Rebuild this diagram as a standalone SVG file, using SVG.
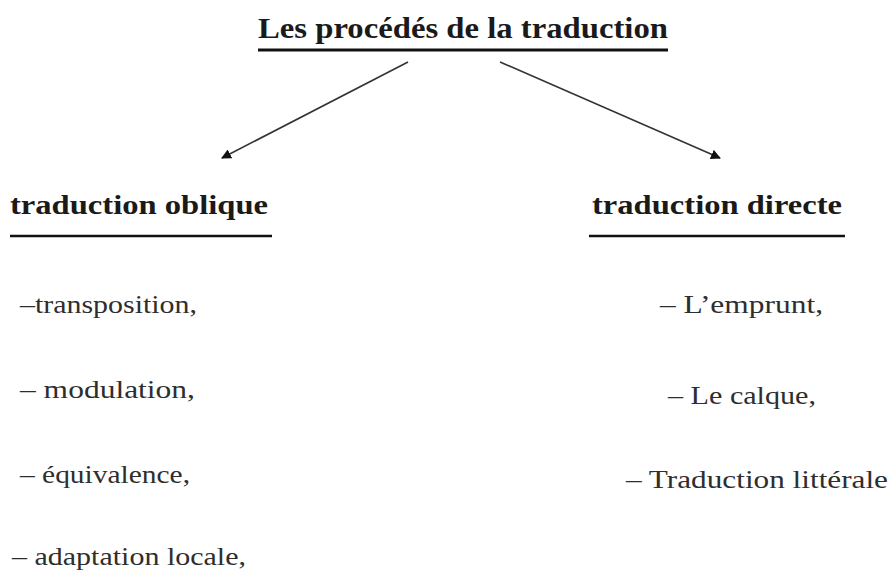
<svg xmlns="http://www.w3.org/2000/svg" width="896" height="572" viewBox="0 0 896 572">
<defs>
<style>
.h{font-family:"Liberation Serif","DejaVu Serif",serif;font-weight:bold;fill:#1a1a1a}
.t{font-family:"Liberation Serif","DejaVu Serif",serif;fill:#2e2e2e;font-size:25px}
.u{stroke:#111;fill:none}
.c{stroke:#333;stroke-width:1.6;fill:none;marker-end:url(#ah)}
</style>
<marker id="ah" viewBox="0 0 10 10" refX="9" refY="5" markerWidth="10" markerHeight="10" markerUnits="userSpaceOnUse" orient="auto">
<path d="M0,0 L10,5 L0,10 z" fill="#111"/>
</marker>
</defs>
<rect width="896" height="572" fill="#fff"/>
<g id="root">
<text class="h" x="258" y="38" font-size="29" textLength="410" lengthAdjust="spacingAndGlyphs">Les procédés de la traduction</text>
<line class="u" x1="258" y1="50" x2="668" y2="50" stroke-width="3"/>
</g>
<g id="oblique">
<text class="h" x="10" y="214" font-size="28" textLength="258" lengthAdjust="spacingAndGlyphs">traduction oblique</text>
<line class="u" x1="10" y1="236" x2="272" y2="236" stroke-width="2.5"/>
<text class="t" x="20" y="313" textLength="177" lengthAdjust="spacingAndGlyphs">–transposition,</text>
<text class="t" x="20" y="398" textLength="175" lengthAdjust="spacingAndGlyphs">– modulation,</text>
<text class="t" x="20" y="483" textLength="170" lengthAdjust="spacingAndGlyphs">– équivalence,</text>
<text class="t" x="12" y="565" textLength="234" lengthAdjust="spacingAndGlyphs">– adaptation locale,</text>
</g>
<g id="directe">
<text class="h" x="592" y="214" font-size="28" textLength="250" lengthAdjust="spacingAndGlyphs">traduction directe</text>
<line class="u" x1="589" y1="236" x2="845" y2="236" stroke-width="2.5"/>
<text class="t" x="660" y="313" textLength="163" lengthAdjust="spacingAndGlyphs">– L’emprunt,</text>
<text class="t" x="668" y="404" textLength="148" lengthAdjust="spacingAndGlyphs">– Le calque,</text>
<text class="t" x="626" y="488" textLength="262" lengthAdjust="spacingAndGlyphs">– Traduction littérale</text>
</g>
<g id="connectors">
<line class="c" x1="408" y1="62" x2="222" y2="158"/>
<line class="c" x1="500" y1="62" x2="720" y2="158"/>
</g>
</svg>
